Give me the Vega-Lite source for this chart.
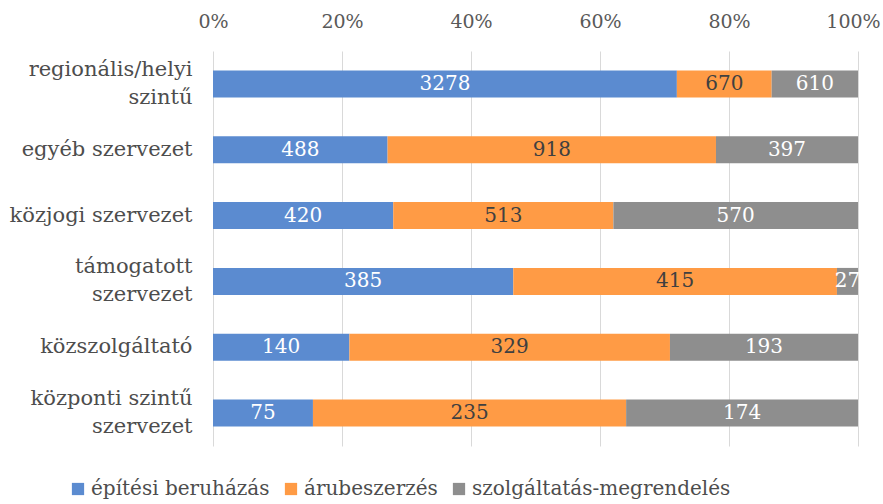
{
  "$schema": "https://vega.github.io/schema/vega-lite/v6.json",
  "width": 645,
  "height": 395,
  "autosize": "none",
  "padding": {"left": 213, "top": 51, "right": 25, "bottom": 58},
  "background": "white",
  "config": {"view": {"stroke": null}, "font": "DejaVu Serif"},
  "data": {
    "values": [
      {"kategoria": "regionális/helyi szintű", "tipus": "építési beruházás", "ertek": 3278, "sorrend": 1},
      {"kategoria": "regionális/helyi szintű", "tipus": "árubeszerzés", "ertek": 670, "sorrend": 2},
      {"kategoria": "regionális/helyi szintű", "tipus": "szolgáltatás-megrendelés", "ertek": 610, "sorrend": 3},
      {"kategoria": "egyéb szervezet", "tipus": "építési beruházás", "ertek": 488, "sorrend": 1},
      {"kategoria": "egyéb szervezet", "tipus": "árubeszerzés", "ertek": 918, "sorrend": 2},
      {"kategoria": "egyéb szervezet", "tipus": "szolgáltatás-megrendelés", "ertek": 397, "sorrend": 3},
      {"kategoria": "közjogi szervezet", "tipus": "építési beruházás", "ertek": 420, "sorrend": 1},
      {"kategoria": "közjogi szervezet", "tipus": "árubeszerzés", "ertek": 513, "sorrend": 2},
      {"kategoria": "közjogi szervezet", "tipus": "szolgáltatás-megrendelés", "ertek": 570, "sorrend": 3},
      {"kategoria": "támogatott szervezet", "tipus": "építési beruházás", "ertek": 385, "sorrend": 1},
      {"kategoria": "támogatott szervezet", "tipus": "árubeszerzés", "ertek": 415, "sorrend": 2},
      {"kategoria": "támogatott szervezet", "tipus": "szolgáltatás-megrendelés", "ertek": 27, "sorrend": 3},
      {"kategoria": "közszolgáltató", "tipus": "építési beruházás", "ertek": 140, "sorrend": 1},
      {"kategoria": "közszolgáltató", "tipus": "árubeszerzés", "ertek": 329, "sorrend": 2},
      {"kategoria": "közszolgáltató", "tipus": "szolgáltatás-megrendelés", "ertek": 193, "sorrend": 3},
      {"kategoria": "központi szintű szervezet", "tipus": "építési beruházás", "ertek": 75, "sorrend": 1},
      {"kategoria": "központi szintű szervezet", "tipus": "árubeszerzés", "ertek": 235, "sorrend": 2},
      {"kategoria": "központi szintű szervezet", "tipus": "szolgáltatás-megrendelés", "ertek": 174, "sorrend": 3}
    ]
  },
  "transform": [
    {"stack": "ertek", "groupby": ["kategoria"], "sort": [{"field": "sorrend", "order": "ascending"}], "offset": "normalize", "as": ["x0", "x1"]},
    {"calculate": "(datum.x0 + datum.x1) / 2", "as": "xm"}
  ],
  "encoding": {
    "y": {
      "field": "kategoria",
      "type": "nominal",
      "sort": ["regionális/helyi szintű", "egyéb szervezet", "közjogi szervezet", "támogatott szervezet", "közszolgáltató", "központi szintű szervezet"],
      "scale": {"paddingInner": 0.59, "paddingOuter": 0.295},
      "axis": {
        "title": null,
        "ticks": false,
        "domain": false,
        "labelFont": "DejaVu Serif",
        "labelFontSize": 21,
        "labelColor": "#4D4D4D",
        "labelPadding": 21,
        "labelLimit": 250,
        "labelLineHeight": 28,
        "labelOffset": {
          "condition": {"test": "indexof(['regionális/helyi szintű', 'támogatott szervezet', 'központi szintű szervezet'], datum.value) >= 0", "value": -14},
          "value": 0
        },
        "labelExpr": "datum.value == 'regionális/helyi szintű' ? ['regionális/helyi', 'szintű'] : datum.value == 'támogatott szervezet' ? ['támogatott', 'szervezet'] : datum.value == 'központi szintű szervezet' ? ['központi szintű', 'szervezet'] : datum.value"
      }
    }
  },
  "layer": [
    {
      "mark": {"type": "bar"},
      "encoding": {
        "x": {
          "field": "x0",
          "type": "quantitative",
          "scale": {"domain": [0, 1], "nice": false},
          "axis": {
            "title": null,
            "orient": "top",
            "format": ".0%",
            "values": [0, 0.2, 0.4, 0.6, 0.8, 1],
            "grid": true,
            "gridColor": "#D9D9D9",
            "gridWidth": 1,
            "ticks": false,
            "domain": false,
            "labelFont": "DejaVu Serif",
            "labelFontSize": 19,
            "labelColor": "#595959",
            "labelPadding": 20,
            "labelFlush": false,
            "labelOffset": {
              "condition": {"test": "datum.value === 1", "value": -5},
              "value": 0
            }
          }
        },
        "x2": {"field": "x1"},
        "color": {
          "field": "tipus",
          "type": "nominal",
          "scale": {
            "domain": ["építési beruházás", "árubeszerzés", "szolgáltatás-megrendelés"],
            "range": ["#5B8BD0", "#FF9B45", "#8E8E8E"]
          },
          "legend": {
            "title": null,
            "orient": "none",
            "direction": "horizontal",
            "legendX": -145,
            "legendY": 428,
            "symbolType": "square",
            "symbolSize": 150,
            "symbolStrokeWidth": 0,
            "labelFont": "DejaVu Serif",
            "labelFontSize": 20,
            "labelColor": "#4D4D4D",
            "labelOffset": 3,
            "columnPadding": 11,
            "labelLimit": 400
          }
        }
      }
    },
    {
      "mark": {"type": "text", "fontSize": 20, "baseline": "middle", "font": "DejaVu Serif"},
      "encoding": {
        "x": {"field": "xm", "type": "quantitative"},
        "text": {"field": "ertek", "type": "quantitative"},
        "color": {
          "condition": {"test": "datum.tipus === 'árubeszerzés'", "value": "#404040"},
          "value": "#FFFFFF"
        }
      }
    }
  ]
}
